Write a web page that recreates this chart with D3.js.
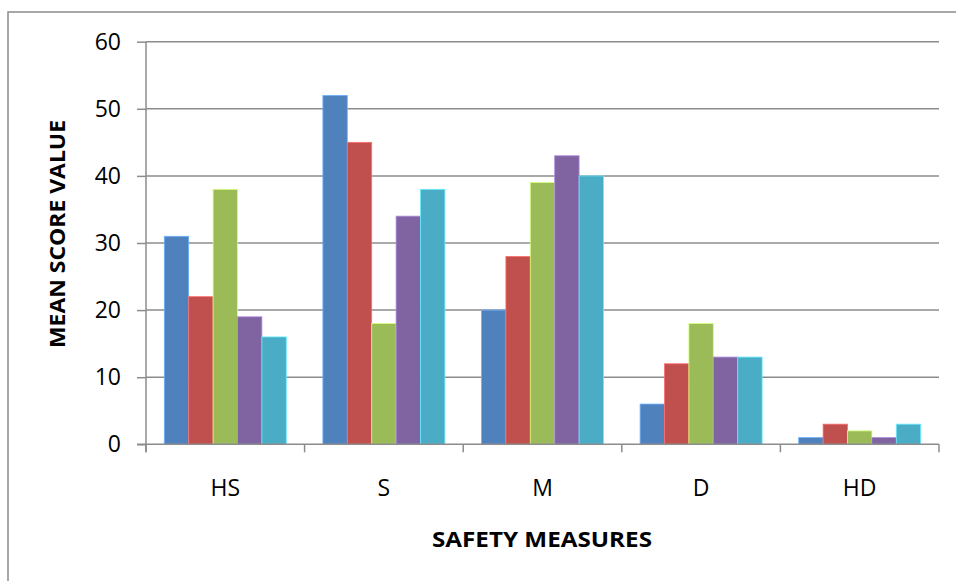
<!DOCTYPE html>
<html>
<head>
<meta charset="utf-8">
<script src="https://cdn.jsdelivr.net/npm/d3@7"></script>
<style>
  html, body { margin: 0; padding: 0; background: #fff; }
  svg { display: block; }
  text { font-family: "Open Sans", "DejaVu Sans", sans-serif; fill: #000; }
</style>
</head>
<body>
<svg id="chart" width="956" height="581"></svg>
<script>
// Safety measure categories and the five groups' mean scores
const categories = ["HS", "S", "M", "D", "HD"];
const seriesNames = ["Series 1", "Series 2", "Series 3", "Series 4", "Series 5"];
const series1 = [31, 52, 20, 6, 1];
const series2 = [22, 45, 28, 12, 3];
const series3 = [38, 18, 39, 18, 2];
const series4 = [19, 34, 43, 13, 1];
const series5 = [16, 38, 40, 13, 3];
const seriesValues = [series1, series2, series3, series4, series5];
const colors = ["#4F81BD", "#C0504D", "#9BBB59", "#8064A2", "#4BACC6"];
const yTicks = [0, 10, 20, 30, 40, 50, 60];
const xTitle = "SAFETY MEASURES";
const yTitle = "MEAN SCORE VALUE";

const svg = d3.select("#chart");
const W = 956, H = 581;
const plot = { left: 146, right: 939, top: 41.7, bottom: 444.3 };
const gridColor = "#8c8c8c";

// outer chart frame (only its top and left edges fall inside the view)
svg.append("rect")
  .attr("x", 8).attr("y", 12)
  .attr("width", 1200).attr("height", 1200)
  .attr("fill", "none")
  .attr("stroke", gridColor)
  .attr("stroke-width", 1.5);

const y = d3.scaleLinear().domain([0, 60]).range([plot.bottom, plot.top]);
const x0 = d3.scaleBand().domain(categories).range([plot.left, plot.right]).paddingInner(0).paddingOuter(0);
// 150% gap between clusters: 5 bars + 1.5 bar widths of gap per category
const x1 = d3.scaleBand().domain(seriesNames).range([0, x0.bandwidth()])
  .paddingInner(0).paddingOuter(1.5 / 2 / 1); 

// horizontal gridlines
svg.append("g")
  .selectAll("line")
  .data(yTicks.filter(t => t > 0))
  .join("line")
  .attr("x1", plot.left).attr("x2", plot.right)
  .attr("y1", d => y(d)).attr("y2", d => y(d))
  .attr("stroke", gridColor).attr("stroke-width", 1.5);

// bars
const groups = svg.append("g")
  .selectAll("g")
  .data(categories)
  .join("g")
  .attr("transform", d => `translate(${x0(d)},0)`);

groups.selectAll("rect")
  .data((c, ci) => seriesValues.map((vals, si) => ({ name: seriesNames[si], value: vals[ci], color: colors[si] })))
  .join("rect")
  .attr("x", d => x1(d.name))
  .attr("width", x1.bandwidth())
  .attr("y", d => y(d.value))
  .attr("height", d => y(0) - y(d.value))
  .attr("fill", d => d.color)
  .attr("stroke", d => d3.color(d.color).brighter(0.9))
  .attr("stroke-width", 0.8);

// y axis with tick marks extending left
const yAxis = d3.axisLeft(y).tickValues(yTicks).tickSize(9).tickPadding(16).tickFormat(d3.format("d"));
const gy = svg.append("g").attr("transform", `translate(${plot.left},0)`).call(yAxis);
gy.select(".domain").attr("stroke", gridColor).attr("stroke-width", 1.5)
  .attr("d", `M0,${plot.top}V${plot.bottom + 8}`);
gy.selectAll(".tick line").attr("stroke", gridColor).attr("stroke-width", 1.5);
gy.selectAll(".tick text").attr("font-size", 23).attr("font-family", "'Open Sans', sans-serif").attr("fill", "#000");

// x axis: category boundaries ticks, labels centred under clusters
const boundaries = categories.map(c => x0(c)).concat([plot.right]);
const gx = svg.append("g");
gx.append("line")
  .attr("x1", plot.left - 9).attr("x2", plot.right)
  .attr("y1", plot.bottom).attr("y2", plot.bottom)
  .attr("stroke", gridColor).attr("stroke-width", 1.5);
gx.selectAll("line.tk")
  .data(boundaries)
  .join("line")
  .attr("class", "tk")
  .attr("x1", d => d).attr("x2", d => d)
  .attr("y1", plot.bottom).attr("y2", plot.bottom + 8)
  .attr("stroke", gridColor).attr("stroke-width", 1.5);
gx.selectAll("text")
  .data(categories)
  .join("text")
  .attr("x", d => x0(d) + x0.bandwidth() / 2)
  .attr("y", 496)
  .attr("text-anchor", "middle")
  .attr("font-size", 23)
  .text(d => d);

// axis titles
svg.append("text")
  .attr("x", 542).attr("y", 547)
  .attr("text-anchor", "middle")
  .attr("font-size", 21).attr("font-weight", "bold")
  .attr("textLength", 220).attr("lengthAdjust", "spacingAndGlyphs")
  .text(xTitle);

svg.append("text")
  .attr("transform", "translate(65,234) rotate(-90)")
  .attr("text-anchor", "middle")
  .attr("font-size", 21).attr("font-weight", "bold")
  .attr("textLength", 228).attr("lengthAdjust", "spacingAndGlyphs")
  .text(yTitle);
</script>
</body>
</html>
